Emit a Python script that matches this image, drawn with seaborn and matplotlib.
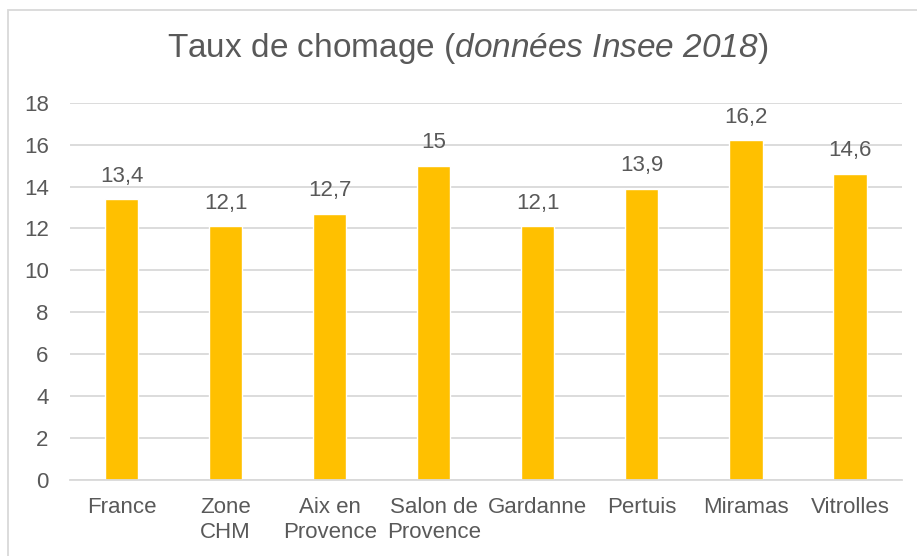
import matplotlib
matplotlib.use("Agg")
import pandas as pd
import matplotlib.pyplot as plt
import seaborn as sns
from matplotlib.patches import Rectangle

communes = ["France", "Zone\nCHM", "Aix en\nProvence", "Salon de\nProvence",
            "Gardanne", "Pertuis", "Miramas", "Vitrolles"]
taux = [13.4, 12.1, 12.7, 15.0, 12.1, 13.9, 16.2, 14.6]
etiquettes = ["13,4", "12,1", "12,7", "15", "12,1", "13,9", "16,2", "14,6"]
yticks = [0, 2, 4, 6, 8, 10, 12, 14, 16, 18]

data = pd.DataFrame({"commune": communes, "taux": taux})

sns.set_theme(style="white")
plt.rcParams["font.family"] = ["Liberation Sans", "DejaVu Sans"]
plt.rcParams["mathtext.fontset"] = "custom"
# tout le texte entre $...$ en italique, chiffres compris
plt.rcParams["mathtext.rm"] = "Liberation Sans:italic"
plt.rcParams["mathtext.it"] = "Liberation Sans:italic"

gris = "#595959"

fig = plt.figure(figsize=(9.17, 5.56), dpi=100)
ax = fig.add_axes([69.5 / 917, 1 - 480 / 556, (902 - 69.5) / 917, (480 - 102.7) / 556])

sns.barplot(x="commune", y="taux", data=data, color="#FFC000", width=0.32,
            saturation=1, ax=ax)

ax.set_ylim(0, 18)
ax.set_yticks(yticks)
ax.set_yticklabels([str(v) for v in yticks])
ax.yaxis.grid(True, color="#D9D9D9", linewidth=1.3)
ax.set_axisbelow(True)
for s in ["top", "right", "left"]:
    ax.spines[s].set_visible(False)
ax.spines["bottom"].set_color("#D9D9D9")
ax.spines["bottom"].set_linewidth(1.3)
ax.set_xlabel("")
ax.set_ylabel("")
ax.tick_params(axis="y", length=0, pad=15, labelsize=16, labelcolor=gris)
ax.tick_params(axis="x", length=0, pad=12, labelsize=16, labelcolor=gris)
for lab in ax.get_xticklabels():
    lab.set_linespacing(1.25)

for i, (v, t) in enumerate(zip(taux, etiquettes)):
    ax.annotate(t, (i, v), xytext=(0, 9), textcoords="offset points",
                ha="center", va="bottom", fontsize=16, color=gris)

fig.text(0.51, 1 - 48 / 556, r"Taux de chomage ($\it{données\ Insee\ 2018}$)",
         ha="center", va="center", fontsize=24, color=gris)

fig.patches.append(Rectangle((8 / 917, -0.1), 1.2, 1.1 - 10 / 556,
                             transform=fig.transFigure, fill=False,
                             edgecolor="#D9D9D9", linewidth=1.3))

fig.savefig("out.png", dpi=100)
